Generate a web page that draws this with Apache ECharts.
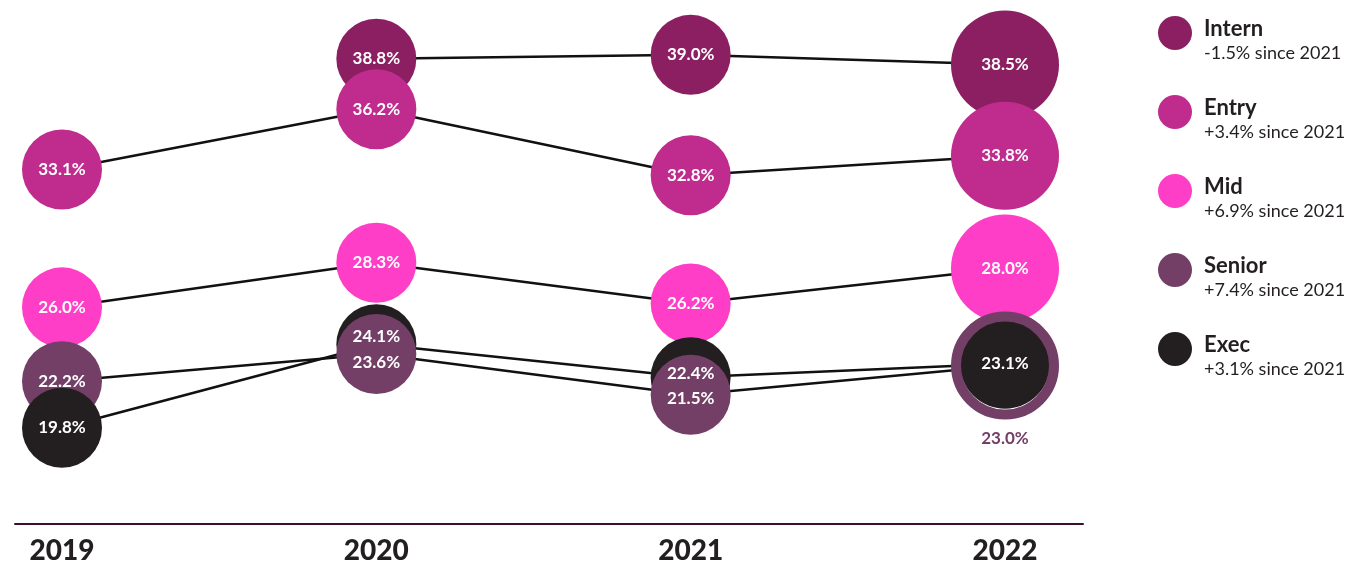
<!DOCTYPE html>
<html>
<head>
<meta charset="utf-8">
<script src="https://cdn.jsdelivr.net/npm/echarts@6/dist/echarts.min.js"></script>
<style>
html, body { margin: 0; padding: 0; background: #fff; }
#chart { width: 1349px; height: 565px; }
</style>
</head>
<body>
<div id="chart"></div>
<script>
// ------------------ data ------------------
var years = ['2019', '2020', '2021', '2022'];
var levels = ['Intern', 'Entry', 'Mid', 'Senior', 'Exec'];
var intern = [null, 38.8, 39.0, 38.5];
var entry = [33.1, 36.2, 32.8, 33.8];
var mid = [26.0, 28.3, 26.2, 28.0];
var senior = [22.2, 23.6, 21.5, 23.0];
var exec = [19.8, 24.1, 22.4, 23.1];
var changes = ['-1.5%', '+3.4%', '+6.9%', '+7.4%', '+3.1%'];

// ------------------ style ------------------
var colors = {Intern: '#8B1F62', Entry: '#BF2C8D', Mid: '#FF3EC7', Senior: '#733F67', Exec: '#231F20'};
var values = {Intern: intern, Entry: entry, Mid: mid, Senior: senior, Exec: exec};
var font = 'Lato, "Open Sans", sans-serif';
var last = years.length - 1;
var yMin = 15, yMax = 41, gridTop = 16, gridBottom = 41, H = 565;
var pxPerUnit = (H - gridTop - gridBottom) / (yMax - yMin);

var chart = echarts.init(document.getElementById('chart'));

var series = [];
// one line per level (also gives the legend its coloured dots)
levels.forEach(function (name) {
	series.push({
		name: name,
		type: 'line',
		data: values[name],
		symbol: 'none',
		silent: true,
		z: 1,
		itemStyle: { color: colors[name] },
		lineStyle: { color: '#111', width: 2.5 }
	});
});

// all bubbles in one series: the lower bubble of each year is drawn on top
var bubbles = [];
levels.forEach(function (name) {
	values[name].forEach(function (v, j) {
		if (v == null) return;
		bubbles.push({ level: name, year: j, v: v });
	});
});
bubbles.sort(function (a, b) { return b.v - a.v; });

// bubble that sits close to another one in the same year (exec / senior)
function partner(b) {
	if (b.level === 'Exec') return senior[b.year];
	if (b.level === 'Senior') return exec[b.year];
	return null;
}

series.push({
	name: 'bubbles',
	type: 'scatter',
	z: 3,
	itemStyle: { opacity: 1 },
	data: bubbles.map(function (b) {
		var col = colors[b.level];
		var item = {
			name: b.level,
			value: [years[b.year], b.v],
			itemStyle: { color: col, opacity: 1 },
			symbolSize: b.year !== last ? 80 : (b.level === 'Exec' ? 90 : (b.level === 'Senior' ? 98 : 108))
		};
		// senior 2022 is a ring round the exec bubble, its value written underneath
		if (b.level === 'Senior' && b.year === last) {
			item.itemStyle = { color: 'rgba(0,0,0,0)', borderColor: col, borderWidth: 10, opacity: 1 };
			item.label = { position: 'bottom', distance: 10, color: col };
		}
		return item;
	}),
	label: {
		show: true,
		position: 'inside',
		color: '#fff',
		fontFamily: font,
		fontWeight: 'bold',
		fontSize: 17,
		formatter: function (p) { return p.value[1].toFixed(1) + '%'; }
	},
	// pull apart labels of two bubbles that nearly sit on each other
	labelLayout: function (p) {
		var b = bubbles[p.dataIndex];
		var o = partner(b);
		if (o == null || b.year === last) return {};
		var gap = Math.abs(o - b.v) * pxPerUnit;
		var need = 26;
		if (gap >= need) return {};
		var s = (need - gap) / 2;
		return { dy: b.v > o ? -s : s };
	}
});

var option = {
	backgroundColor: '#fff',
	animation: false,
	grid: [
		{ left: 62, right: 344, top: gridTop, bottom: gridBottom },
		{ left: 15, right: 266, top: gridTop, bottom: gridBottom }
	],
	xAxis: [
		{
			type: 'category', gridIndex: 0, data: years, boundaryGap: false,
			axisLine: { show: false }, axisTick: { show: false }, splitLine: { show: false },
			axisLabel: { margin: 16, color: '#231F20', fontFamily: font, fontWeight: 900, fontSize: 28 }
		},
		{
			type: 'value', gridIndex: 1, min: 0, max: 1,
			axisLine: { show: true, lineStyle: { color: '#3B0F2F', width: 2 } },
			axisTick: { show: false }, axisLabel: { show: false }, splitLine: { show: false }
		}
	],
	yAxis: [
		{ type: 'value', gridIndex: 0, min: yMin, max: yMax, show: false },
		{ type: 'value', gridIndex: 1, min: 0, max: 1, show: false }
	],
	legend: {
		data: levels,
		orient: 'vertical',
		left: 1158,
		top: 16,
		padding: 0,
		icon: 'circle',
		itemWidth: 34,
		itemHeight: 34,
		itemGap: 33,
		selectedMode: false,
		formatter: function (name) {
			return '{t|' + name + '}\n{s|' + changes[levels.indexOf(name)] + ' since 2021}';
		},
		textStyle: {
			padding: [14, 0, 0, 7],
			rich: {
				t: { fontFamily: font, fontWeight: 'bold', fontSize: 22, lineHeight: 26, color: '#231F20' },
				s: { fontFamily: font, fontWeight: 'normal', fontSize: 18, lineHeight: 22, color: '#231F20' }
			}
		}
	},
	series: series
};

chart.setOption(option);
</script>
</body>
</html>
